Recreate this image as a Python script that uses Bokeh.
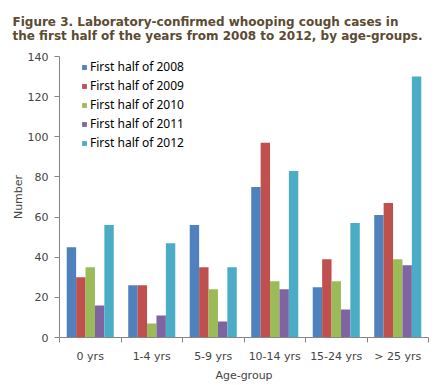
from bokeh.plotting import figure
from bokeh.models import (ColumnDataSource, Range1d, FixedTicker, Legend)
from bokeh.transform import dodge
from bokeh.embed import file_html
from bokeh.resources import INLINE

ages = ["0 yrs", "1-4 yrs", "5-9 yrs", "10-14 yrs", "15-24 yrs", "> 25 yrs"]
y2008 = [45, 26, 56, 75, 25, 61]
y2009 = [30, 26, 35, 97, 39, 67]
y2010 = [35, 7, 24, 28, 28, 39]
y2011 = [16, 11, 8, 24, 14, 36]
y2012 = [56, 47, 35, 83, 57, 130]
series_names = ["First half of 2008", "First half of 2009", "First half of 2010",
                "First half of 2011", "First half of 2012"]
colors = ["#4F81BD", "#C0504D", "#9BBB59", "#8064A2", "#4BACC6"]
y_ticks = [0, 20, 40, 60, 80, 100, 120, 140]

centers = [i + 0.5 for i in range(len(ages))]
edges = list(range(len(ages) + 1))
src = ColumnDataSource(dict(age=ages, xc=centers, y2008=y2008, y2009=y2009, y2010=y2010,
                            y2011=y2011, y2012=y2012))

AXIS = "#868686"
p = figure(width=440, height=385, x_range=Range1d(0, len(ages)), y_range=Range1d(0, 140),
           output_backend="svg", toolbar_location=None,
           min_border_left=59, min_border_right=12, min_border_top=56, min_border_bottom=48)

p.title.text = ("Figure 3. Laboratory-confirmed whooping cough cases in\n"
                "the first half of the years from 2008 to 2012, by age-groups.")
p.title.text_font = "DejaVu Sans"
p.title.text_font_size = "12px"
p.title.text_font_style = "bold"
p.title.text_color = "#5b4b33"
p.title.align = "left"
p.title.offset = -47
p.title.vertical_align = "top"
p.title.standoff = 24

p.outline_line_color = None
p.xgrid.grid_line_color = None
p.ygrid.grid_line_color = None

bw = 0.153
offsets = [-2 * bw, -bw, 0, bw, 2 * bw]
cols = ["y2008", "y2009", "y2010", "y2011", "y2012"]
items = []
for col, off, c, name in zip(cols, offsets, colors, series_names):
    r = p.vbar(x=dodge("xc", off), top=col, width=bw, source=src,
               fill_color=c, line_color=None)
    items.append((name, [r]))

legend = Legend(items=items, location=(22, 186), orientation="vertical")
legend.border_line_color = None
legend.background_fill_alpha = 0
legend.padding = 0
legend.margin = 0
legend.spacing = 2
legend.label_height = 15
legend.glyph_width = 6
legend.glyph_height = 6
legend.label_standoff = 3
legend.label_text_font = "Noto Sans"
legend.label_text_font_size = "12px"
legend.label_text_color = "#000000"
p.add_layout(legend, "center")

# y axis
ya = p.yaxis[0]
ya.ticker = FixedTicker(ticks=y_ticks)
ya.axis_label = "Number"
ya.axis_label_text_font = "DejaVu Sans"
ya.axis_label_text_font_size = "11px"
ya.axis_label_text_font_style = "normal"
ya.axis_label_standoff = 0
ya.major_label_text_font = "DejaVu Sans"
ya.major_label_text_font_size = "11px"
ya.major_label_standoff = 6
ya.axis_line_color = AXIS
ya.major_tick_line_color = AXIS
ya.major_tick_out = 5
ya.major_tick_in = 0
ya.minor_tick_line_color = None

# x axis: labels at group centres, tick marks at group edges
xa = p.xaxis[0]
xa.ticker = FixedTicker(ticks=centers, minor_ticks=edges)
xa.major_label_overrides = {c: a for c, a in zip(centers, ages)}
xa.axis_line_color = AXIS
xa.major_tick_line_color = None
xa.minor_tick_line_color = AXIS
xa.minor_tick_out = 5
xa.minor_tick_in = 0
xa.major_tick_out = 5
xa.major_tick_in = 0
xa.major_label_text_font = "DejaVu Sans"
xa.major_label_text_font_size = "11px"
xa.major_label_standoff = 7
xa.axis_label = "Age-group"
xa.axis_label_text_font = "DejaVu Sans"
xa.axis_label_text_font_size = "11px"
xa.axis_label_text_font_style = "normal"
xa.axis_label_standoff = 3

open("out.html", "w").write(file_html(p, INLINE))
